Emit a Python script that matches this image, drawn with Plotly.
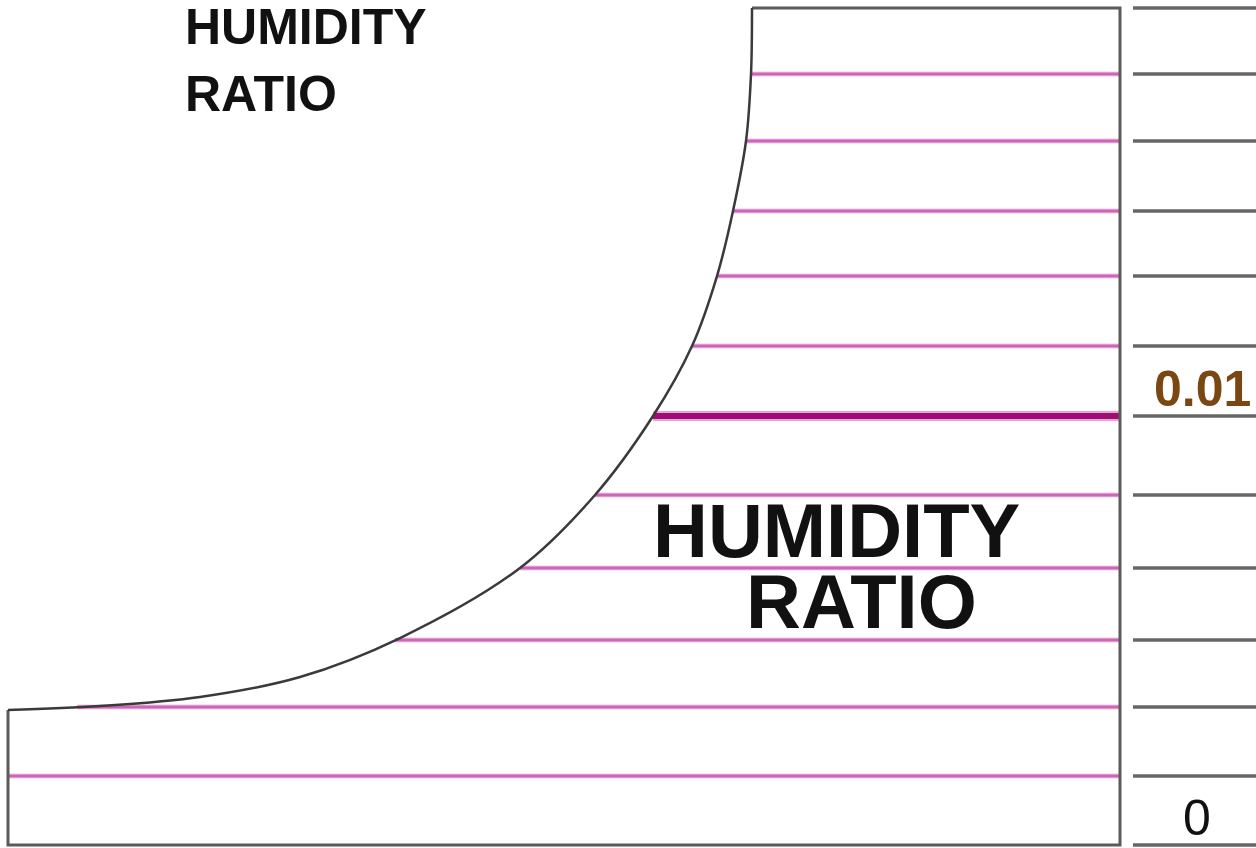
import numpy as np
import plotly.graph_objects as go

# Saturation curve (dry-bulb position vs humidity ratio)
sat_drybulb = [8, 100, 200, 300, 400, 520, 595, 653, 692, 717, 733, 746, 751, 752]
sat_w = [0.003147, 0.003240, 0.003450, 0.003916, 0.004825, 0.006457, 0.008159,
         0.010000, 0.011632, 0.013263, 0.014779, 0.016410, 0.017972, 0.019510]

# Constant humidity-ratio lines
w_lines = [0.001608, 0.003217, 0.004779, 0.006457, 0.008159, 0.010000,
           0.011632, 0.013263, 0.014779, 0.016410, 0.017972]
highlight_w = 0.010000

# Scale ticks on the right
scale_ticks = [0.0, 0.001608, 0.003217, 0.004779, 0.006457, 0.008159, 0.010000,
               0.011632, 0.013263, 0.014779, 0.016410, 0.017972, 0.019510]

x_left, x_right = 8, 1120
w_top = 0.019510
W, H = 1256, 848
px_per_w = 42900.0
y_base_px = 845
y_range = [-(H - y_base_px) / px_per_w, y_base_px / px_per_w]


def wy(py):
    return (y_base_px - py) / px_per_w


fig = go.Figure()

MAG = "#cc66b6"
DARKMAG = "#9c0f70"
GRAY = "#5a5a5a"

# humidity lines
for w in w_lines:
    xs = float(np.interp(w, sat_w, sat_drybulb, left=x_left))
    if w == highlight_w:
        fig.add_trace(go.Scatter(x=[xs, x_right], y=[w, w], mode="lines",
                                 line=dict(color="#f0a0dc", width=10), hoverinfo="skip", showlegend=False))
        fig.add_trace(go.Scatter(x=[xs, x_right], y=[w, w], mode="lines",
                                 line=dict(color=DARKMAG, width=6), hoverinfo="skip", showlegend=False))
    else:
        fig.add_trace(go.Scatter(x=[xs, x_right], y=[w, w], mode="lines",
                                 line=dict(color="#f2c6e8", width=5), hoverinfo="skip", showlegend=False))
        fig.add_trace(go.Scatter(x=[xs, x_right], y=[w, w], mode="lines",
                                 line=dict(color=MAG, width=3), hoverinfo="skip", showlegend=False))

# box outline
fig.add_trace(go.Scatter(x=[sat_drybulb[-1], x_right, x_right, x_left, x_left],
                         y=[w_top, w_top, 0, 0, sat_w[0]], mode="lines",
                         line=dict(color=GRAY, width=3), hoverinfo="skip", showlegend=False))

# saturation curve
fig.add_trace(go.Scatter(x=sat_drybulb, y=sat_w, mode="lines",
                         line=dict(color="#3a3a3a", width=2.5, shape="spline", smoothing=1.0),
                         hoverinfo="skip", showlegend=False))

# right scale ticks
for w in scale_ticks:
    fig.add_trace(go.Scatter(x=[1133, 1256], y=[w, w], mode="lines",
                             line=dict(color="#666666", width=3.5), hoverinfo="skip", showlegend=False))

annotations = [
    dict(x=183, y=wy(27), text="<b>HUMIDITY</b>", xanchor="left", yanchor="middle",
         font=dict(size=50, color="#111111", family="Liberation Sans, Arial")),
    dict(x=183, y=wy(94), text="<b>RATIO</b>", xanchor="left", yanchor="middle",
         font=dict(size=50, color="#111111", family="Liberation Sans, Arial")),
    dict(x=836, y=wy(530), text="<b>HUMIDITY</b>", xanchor="center", yanchor="middle",
         font=dict(size=76, color="#111111", family="Liberation Sans, Arial")),
    dict(x=861, y=wy(601), text="<b>RATIO</b>", xanchor="center", yanchor="middle",
         font=dict(size=76, color="#111111", family="Liberation Sans, Arial")),
    dict(x=1152, y=wy(389), text="<b>0.01</b>", xanchor="left", yanchor="middle",
         font=dict(size=50, color="#7a4712", family="Liberation Sans, Arial")),
    dict(x=1197, y=wy(818), text="0", xanchor="center", yanchor="middle",
         font=dict(size=50, color="#111111", family="Liberation Sans, Arial")),
]
for a in annotations:
    a.update(xref="x", yref="y", showarrow=False)

fig.update_layout(
    width=W, height=H,
    margin=dict(l=0, r=0, t=0, b=0),
    paper_bgcolor="white", plot_bgcolor="white",
    xaxis=dict(range=[0, W], visible=False, fixedrange=True),
    yaxis=dict(range=y_range, visible=False, fixedrange=True),
    annotations=annotations,
    showlegend=False,
)

fig.write_html("out.html", config={"displayModeBar": False},
               post_script="document.body.style.margin='0';document.body.style.overflow='hidden';")
